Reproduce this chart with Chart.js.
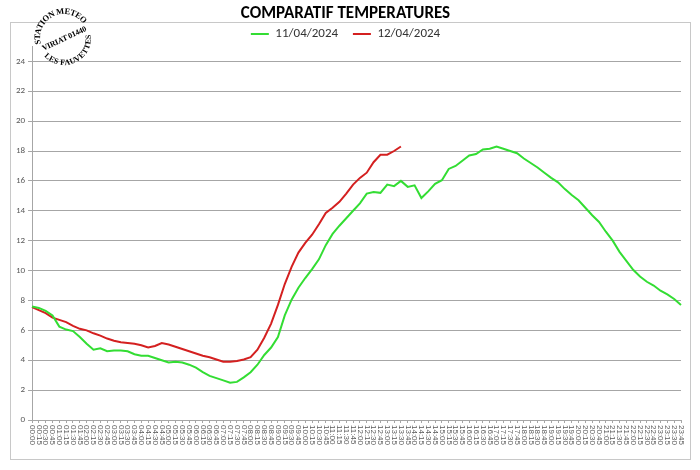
<!DOCTYPE html>
<html lang="fr">
<head>
<meta charset="UTF-8">
<title>Comparatif températures</title>
<script src="https://cdn.jsdelivr.net/npm/chart.js"></script>
<style>
  body { margin: 0; background: #fff; }
  #wrap { position: relative; width: 700px; height: 470px; }
  #logo { position: absolute; left: 0; top: 0; }
</style>
</head>
<body>
<div id="wrap">
  <canvas id="chart" width="700" height="470"></canvas>
  <!-- tampon de la station -->
  <svg id="logo" width="110" height="75" viewBox="0 0 110 75">
    <defs>
      <path id="arcHaut" d="M 40 38 A 24 24 0 0 1 88 38" />
      <path id="arcBas" d="M 37 38 A 27 27 0 0 0 91 38" />
    </defs>
    <g transform="rotate(-25 64 38)" font-family="'Liberation Serif', 'DejaVu Serif', serif" font-weight="bold" fill="#000">
      <text font-size="8.5"><textPath href="#arcHaut" startOffset="50%" text-anchor="middle" textLength="66" lengthAdjust="spacing">STATION METEO</textPath></text>
      <text font-size="8"><textPath href="#arcBas" startOffset="50%" text-anchor="middle" textLength="68" lengthAdjust="spacing">LES FAUVETTES</textPath></text>
      <text x="64" y="41" font-size="8" text-anchor="middle" textLength="48" lengthAdjust="spacing">VIRIAT 01440</text>
    </g>
  </svg>
</div>

<script>
// heures, toutes les 15 min
const heures = [];
for (let h = 0; h < 24; h++) {
    for (let m = 0; m < 60; m += 15) {
        heures.push(String(h).padStart(2, '0') + ':' + String(m).padStart(2, '0'));
    }
}

const temp11 = [
    7.6, 7.5, 7.3, 7.0, 6.25, 6.05, 5.95, 5.55, 5.1, 4.7,
    4.8, 4.6, 4.65, 4.65, 4.6, 4.4, 4.3, 4.3, 4.15, 4.0,
    3.85, 3.9, 3.85, 3.7, 3.5, 3.2, 2.95, 2.8, 2.65, 2.5,
    2.55, 2.85, 3.2, 3.7, 4.35, 4.85, 5.55, 7.0, 8.05, 8.85,
    9.5, 10.1, 10.75, 11.7, 12.45, 13.0, 13.5, 14.0, 14.5, 15.15,
    15.25, 15.2, 15.75, 15.65, 16.0, 15.6, 15.7, 14.85, 15.3, 15.8,
    16.05, 16.8, 17.0, 17.35, 17.7, 17.8, 18.1, 18.15, 18.3, 18.15,
    18.0, 17.85, 17.5, 17.2, 16.9, 16.55, 16.2, 15.9, 15.45, 15.05,
    14.7, 14.2, 13.7, 13.25, 12.6, 12.0, 11.25, 10.65, 10.05, 9.6,
    9.25, 9.0, 8.65, 8.4, 8.1, 7.7
];

// s'arrête à 13:30
const temp12 = [
    7.55, 7.35, 7.15, 6.85, 6.7, 6.55, 6.3, 6.1, 6.0, 5.8,
    5.65, 5.45, 5.3, 5.2, 5.15, 5.1, 5.0, 4.85, 4.95, 5.15,
    5.05, 4.9, 4.75, 4.6, 4.45, 4.3, 4.2, 4.05, 3.9, 3.9,
    3.95, 4.05, 4.2, 4.7, 5.5, 6.45, 7.7, 9.1, 10.25, 11.2,
    11.85, 12.4, 13.1, 13.85, 14.2, 14.6, 15.15, 15.75, 16.2, 16.55,
    17.25, 17.75, 17.75, 18.0, 18.3
];

const yMin = 0, yMax = 25, yStep = 2;

const gris = '#a6a6a6';
const police = 'Carlito, Lato, sans-serif';

// cadre + fond blanc
const cadre = {
    id: 'cadre',
    beforeDraw(chart) {
        const ctx = chart.ctx;
        ctx.save();
        ctx.fillStyle = '#fff';
        ctx.fillRect(0, 0, chart.width, chart.height);
        ctx.strokeStyle = '#c8c8c8';
        ctx.lineWidth = 1;
        ctx.strokeRect(10.5, 22.5, 680, 437);
        ctx.restore();
    }
};

// étiquettes verticales lues de haut en bas (comme Excel)
const etiquettesX = {
    id: 'etiquettesX',
    afterDraw(chart) {
        const sx = chart.scales.x;
        const ctx = chart.ctx;
        ctx.save();
        ctx.font = '8px "Liberation Sans", Arial, sans-serif';
        ctx.fillStyle = '#595959';
        ctx.textAlign = 'left';
        ctx.textBaseline = 'middle';
        sx.ticks.forEach((t, i) => {
            const x = sx.getPixelForTick(i);
            ctx.save();
            ctx.translate(x, sx.top + 5);
            ctx.rotate(Math.PI / 2);
            ctx.fillText(sx.getLabelForValue(t.value), 0, 0);
            ctx.restore();
        });
        ctx.restore();
    }
};

new Chart(document.getElementById('chart'), {
    type: 'line',
    data: {
        labels: heures,
        datasets: [
            { label: '11/04/2024', data: temp11, borderColor: '#33dd33', backgroundColor: '#33dd33', borderWidth: 2, pointRadius: 0, tension: 0 },
            { label: '12/04/2024', data: temp12, borderColor: '#d42020', backgroundColor: '#d42020', borderWidth: 2, pointRadius: 0, tension: 0 }
        ]
    },
    options: {
        responsive: false,
        animation: false,
        layout: { padding: { left: 10, right: 19, top: 0, bottom: 11 } },
        plugins: {
            title: {
                display: true,
                text: 'COMPARATIF TEMPERATURES',
                color: '#000',
                font: { family: police, size: 17, weight: 'bold' },
                padding: { top: 4, bottom: -3 }
            },
            legend: {
                maxHeight: 25,
                labels: {
                    usePointStyle: true,
                    pointStyle: 'line',
                    pointStyleWidth: 18,
                    color: '#333',
                    font: { family: police, size: 13 },
                    padding: 6,
                    generateLabels(chart) {
                        const items = Chart.defaults.plugins.legend.labels.generateLabels(chart);
                        items[0].text += '\u00a0\u00a0\u00a0';
                        return items;
                    }
                }
            },
            tooltip: { enabled: false }
        },
        scales: {
            x: {
                grid: { drawOnChartArea: false, tickLength: 3, color: gris },
                border: { color: gris },
                ticks: { autoSkip: false, minRotation: 90, maxRotation: 90, color: 'rgba(0,0,0,0)', font: { size: 8 } },
                afterFit(s) { s.height = 39; }
            },
            y: {
                min: yMin,
                max: yMax,
                ticks: {
                    stepSize: yStep,
                    includeBounds: false,
                    color: '#595959',
                    font: { family: police, size: 9 },
                    padding: 3
                },
                grid: { color: gris, tickLength: 4 },
                border: { color: gris },
                afterFit(s) { s.width = 22; }
            }
        }
    },
    plugins: [cadre, etiquettesX]
});
</script>
</body>
</html>
